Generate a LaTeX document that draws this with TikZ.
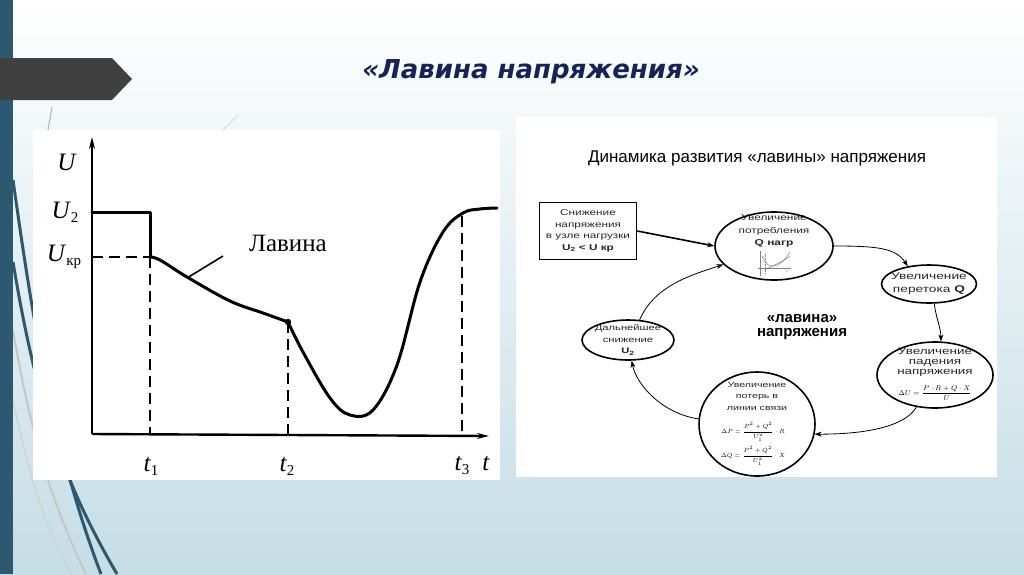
\documentclass[tikz,border=0pt]{standalone}
\usepackage{fontspec}
\setmainfont{Liberation Serif}
\newfontfamily\diagfont[FakeStretch=1.4]{Liberation Sans}
\newfontfamily\headfont{Liberation Sans}
\newfontfamily\titlefont{DejaVu Sans}
\usetikzlibrary{shapes.geometric,arrows.meta}

\definecolor{barteal}{RGB}{44,88,112}
\definecolor{bannergray}{RGB}{64,64,64}
\definecolor{bgblue}{RGB}{197,221,229}
\definecolor{titlenavy}{RGB}{22,34,88}

\newcommand{\lowidx}[1]{\raisebox{-0.35ex}{\fontsize{15}{15}\selectfont #1}}

\tikzstyle{panel}=[fill=white,draw=none]
\tikzstyle{axis}=[line width=2.4pt,-{Stealth[length=12pt,width=6pt]}]
\tikzstyle{trace}=[line width=3pt,line join=round,line cap=round]
\tikzstyle{guide}=[line width=2pt,dash pattern=on 11pt off 6pt]
\tikzstyle{glabel}=[font=\fontsize{25}{25}\selectfont,inner sep=0pt]
\tikzstyle{bubble}=[draw=black,line width=1.6pt,ellipse,inner sep=0pt]
\tikzstyle{note}=[align=center,text=black!85,inner sep=0pt]
\tikzstyle{formula}=[inner sep=0pt,font=\fontsize{6.5}{6.5}\selectfont]
\tikzstyle{flow}=[line width=0.8pt,-{Stealth[length=7pt,width=5pt]}]
\tikzstyle{swirl}=[barteal,line width=3pt]

\begin{document}
\begin{tikzpicture}[x=1pt,y=-1pt]

   \useasboundingbox (0,0) rectangle (1024,574);

   % Slide background
   \shade[top color=white,middle color=bgblue!40,bottom color=bgblue] (0,0) rectangle (1024,574);
   \draw[gray!45,line width=2pt] (13,330) .. controls (30,430) and (50,500) .. (86,574);
   \draw[gray!35,line width=1.5pt] (13,400) .. controls (28,470) and (45,530) .. (72,574);
   \draw[swirl] (13,180) .. controls (30,300) and (50,440) .. (101,574);
   \draw[swirl] (13,262) .. controls (36,400) and (62,480) .. (117,574);
   \draw[gray!60,line width=1pt] (52,107) -- (48,130);
   \draw[gray!30,line width=1pt] (238,115) -- (223,130);
   \fill[barteal] (0,0) rectangle (13,574);
   \fill[bannergray] (0,58) -- (112,58) -- (132,79) -- (112,100) -- (0,100) -- cycle;

   \node[font=\titlefont\bfseries\itshape\fontsize{26}{26}\selectfont,text=titlenavy] (title) at (531,72) {«Лавина напряжения»};

% U(t) graph
   \fill[panel] (33,130) rectangle (500,480);

   \coordinate (o) at (92,434);
   \coordinate (ytop) at (92,137);
   \coordinate (xend) at (489,436);
   \draw[axis] (o) -- (ytop);
   \draw[axis] (o) -- (xend);

   \coordinate (u2a) at (92,212);
   \coordinate (u2b) at (150,212);
   \coordinate (ukra) at (92,257);
   \coordinate (kr) at (150,257);
   \coordinate (p2) at (288,322);
   \coordinate (p3) at (462,216);
   \coordinate (t1) at (150,434);
   \coordinate (t2) at (288,434);
   \coordinate (t3) at (462,434);

   \draw[trace] (u2a) -- (u2b) -- (kr);
   \draw[trace] plot[smooth,tension=0.6] coordinates {(150,257) (160,260) (187,277) (230,301) (263,313) (288,322)};
   \draw[trace] plot[smooth,tension=0.6] coordinates {(288,322) (303,352) (330,398) (350,415) (373,410) (397,365) (420,282) (443,232) (463,213) (480,209) (497,208)};
   \fill (p2) circle (3.2);

   \draw[guide] (ukra) -- (kr);
   \draw[guide] (kr) -- (t1);
   \draw[guide] (p2) -- (t2);
   \draw[guide] (p3) -- (t3);

   \node[glabel] (lu) at (67,162) {\textit{U}};
   \node[glabel] (lu2) at (65,212) {\textit{U}\lowidx{2}};
   \node[glabel] (lukr) at (64,257) {\textit{U}\lowidx{кр}};
   \node[glabel] (lt1) at (151,466) {\textit{t}\lowidx{1}};
   \node[glabel] (lt2) at (287,466) {\textit{t}\lowidx{2}};
   \node[glabel] (lt3) at (462,466) {\textit{t}\lowidx{3}};
   \node[glabel] (lt) at (486,464) {\textit{t}};

   \node[glabel] (lav) at (288,243) {Лавина};
   \coordinate (lead) at (223,256);
   \coordinate (leadend) at (187,278);
   \draw[line width=1.6pt] (lead) -- (leadend);

% Avalanche cycle
   \fill[panel] (516,117) rectangle (997,477);

   \node[font=\headfont\fontsize{17}{17}\selectfont] (rtitle) at (757,158) {Динамика развития «лавины» напряжения};

   \node[draw,line width=1.6pt,minimum width=97pt,minimum height=57pt,align=center,
         font=\diagfont\fontsize{8.4}{11.5}\selectfont,text=black!85] (nbox) at (588,231)
         {Снижение\\напряжения\\в узле нагрузки\\\textbf{U\textsubscript{2} < U кр}};

   \node[bubble,minimum width=118pt,minimum height=68pt] (ncons) at (774,246) {};
   \node[note,font=\diagfont\fontsize{8.5}{12.5}\selectfont] (tcons) at (774,231)
         {Увеличение\\потребления\\\textbf{Q нагр}};
   % small Q(U) sketch
   \draw[line width=0.5pt,gray] (760,251) -- (760,276);
   \draw[line width=0.5pt,gray] (758,268) -- (791,268);
   \draw[line width=0.5pt,gray,densely dotted] (765,253) -- (765,274);
   \draw[line width=0.5pt,gray] (762,256) .. controls (768,272) and (780,268) .. (790,252);
   \draw[line width=0.5pt,gray] (765,270) .. controls (775,264) and (783,262) .. (790,256);
   \node[font=\fontsize{3}{3}\selectfont,gray,inner sep=0pt] (mq) at (763,258) {Q};
   \node[font=\fontsize{3}{3}\selectfont,gray,inner sep=0pt] (mu) at (787,272) {U};

   \node[bubble,minimum width=95pt,minimum height=38pt] (nflow) at (929,284) {};
   \node[note,font=\diagfont\fontsize{9.8}{13}\selectfont] (tflow) at (929,284)
         {Увеличение\\перетока \textbf{Q}};

   \node[bubble,minimum width=116pt,minimum height=66pt] (ndrop) at (935,375) {};
   \node[note,font=\diagfont\fontsize{9.6}{10}\selectfont] (tdrop) at (935,362)
         {Увеличение\\падения\\напряжения};
   \node[formula,font=\fontsize{7.5}{7.5}\selectfont] (fdrop) at (935,393)
         {$\displaystyle\Delta U=\frac{P\cdot R+Q\cdot X}{U}$};

   \node[bubble,minimum width=116pt,minimum height=104pt] (nloss) at (757,424) {};
   \node[note,font=\diagfont\fontsize{7.6}{11.5}\selectfont] (tloss) at (757,396)
         {Увеличение\\потерь в\\линии связи};
   \node[formula] (fdp) at (753,432) {$\displaystyle\Delta P=\frac{P^2+Q^2}{U_1^2}\cdot R$};
   \node[formula] (fdq) at (753,456) {$\displaystyle\Delta Q=\frac{P^2+Q^2}{U_1^2}\cdot X$};

   \node[bubble,minimum width=92pt,minimum height=40pt] (nfurther) at (628,340) {};
   \node[note,font=\diagfont\fontsize{8}{11.5}\selectfont] (tfurther) at (628,340)
         {Дальнейшее\\снижение\\\textbf{U\textsubscript{2}}};

   \node[align=center,font=\headfont\bfseries\fontsize{15}{14}\selectfont] (tcenter) at (802,327)
         {«лавина»\\напряжения};

   \draw[flow,line width=1.6pt] (nbox.east) -- (ncons.west);
   \draw[flow] (ncons.east) .. controls +(45,0) and +(-12,-18) .. (nflow.140);
   \draw[flow] (nflow.285) .. controls +(2,16) and +(0,-14) .. (ndrop.80);
   \draw[flow] (ndrop.240) .. controls +(-15,25) and +(30,0) .. (nloss.350);
   \draw[flow] (nloss.175) .. controls +(-35,-5) and +(5,25) .. (nfurther.280);
   \draw[flow] (nfurther.60) .. controls +(15,-35) and +(-30,10) .. (ncons.200);

\end{tikzpicture}
\end{document}
